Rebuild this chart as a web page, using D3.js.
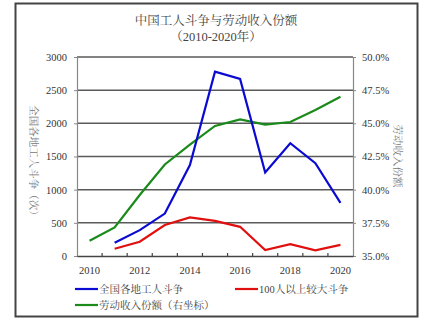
<!DOCTYPE html>
<html><head><meta charset="utf-8">
<script src="https://cdn.jsdelivr.net/npm/d3@7"></script>
<style>
body{margin:0;background:#fff;}
text{font-family:"Liberation Serif","Noto Serif CJK SC","Noto Sans CJK SC",serif;}
</style></head>
<body><svg id="c" width="431" height="322"></svg>
<script>
const years = [2010,2011,2012,2013,2014,2015,2016,2017,2018,2019,2020];
const yearTicks = [2010,2012,2014,2016,2018,2020];
const allStrikes = [null,200,390,640,1370,2780,2670,1260,1700,1400,800];
const bigStrikes = [null,110,215,467,582,530,440,90,180,85,168];
const laborShare = [36.15,37.15,39.6,41.9,43.4,44.8,45.3,44.9,45.1,46.0,47.0];
const leftTicks = [0,500,1000,1500,2000,2500,3000];
const rightTicks = [35,37.5,40,42.5,45,47.5,50];
const title1 = "中国工人斗争与劳动收入份额";
const title2 = "（2010-2020年）";
const seriesNames = ["全国各地工人斗争","100人以上较大斗争","劳动收入份额（右坐标）"];
const colors = ["#0a0ad2","#e01010","#1a8a1a"];

const svg = d3.select("#c");
const L=77, R=353, T=57, B=256;
const x = d3.scaleBand().domain(years).range([L,R]);
const yl = d3.scaleLinear().domain([0,3000]).range([B,T]);
const yr = d3.scaleLinear().domain([35,50]).range([B,T]);
const cx = d => x(d)+x.bandwidth()/2;

// frame
svg.append("rect").attr("x",15.5).attr("y",3.5).attr("width",402).attr("height",313)
  .attr("fill","none").attr("stroke","#444").attr("stroke-width",2);

// title
svg.append("text").attr("x",216).attr("y",25).attr("text-anchor","middle")
  .attr("font-size",12.5).attr("fill","#444").text(title1);
svg.append("text").attr("x",216).attr("y",41).attr("text-anchor","middle")
  .attr("font-size",12.5).attr("fill","#444").text(title2);

// gridlines
svg.append("g").selectAll("line").data(leftTicks.slice(1)).join("line")
  .attr("x1",L).attr("x2",R).attr("y1",d=>yl(d)).attr("y2",d=>yl(d))
  .attr("stroke","#5a5a5a").attr("stroke-width",1.5);

// left axis
const gl = svg.append("g").attr("transform",`translate(${L},0)`)
  .call(d3.axisLeft(yl).tickValues(leftTicks).tickSize(3).tickPadding(7).tickFormat(d3.format("d")));
gl.select(".domain").attr("stroke","#888").attr("stroke-width",1.2);
gl.selectAll(".tick line").attr("stroke","#888");
gl.selectAll("text").attr("font-size",10.5).attr("fill","#333")
  .attr("font-family","Liberation Serif, serif");

// right axis
const gr = svg.append("g").attr("transform",`translate(${R},0)`)
  .call(d3.axisRight(yr).tickValues(rightTicks).tickSize(3).tickPadding(6).tickFormat(d=>d.toFixed(1)+"%"));
gr.select(".domain").attr("stroke","#888").attr("stroke-width",1.2);
gr.selectAll(".tick line").attr("stroke","#888");
gr.selectAll("text").attr("font-size",10.5).attr("fill","#333")
  .attr("font-family","Liberation Serif, serif");

// bottom axis
const gb = svg.append("g").attr("transform",`translate(0,${B})`)
  .call(d3.axisBottom(x).tickValues([]).tickSize(0));
gb.select(".domain").attr("stroke","#444").attr("stroke-width",1.5);
// inward ticks at band boundaries
gb.append("g").selectAll("line").data(years.slice(1)).join("line")
  .attr("x1",d=>x(d)).attr("x2",d=>x(d)).attr("y1",0).attr("y2",-3)
  .attr("stroke","#444").attr("stroke-width",1.2);
gb.append("g").selectAll("text").data(yearTicks).join("text")
  .attr("x",d=>cx(d)).attr("y",18).attr("text-anchor","middle")
  .attr("font-size",10.5).attr("fill","#333").text(d=>d);

// axis titles
svg.append("text").attr("transform",`translate(30,163) rotate(90)`)
  .attr("text-anchor","middle").attr("font-size",10.5).attr("fill","#777").text("全国各地工人斗争（次）");
svg.append("text").attr("transform",`translate(394,156) rotate(90)`)
  .attr("text-anchor","middle").attr("font-size",10.5).attr("fill","#777").text("劳动收入份额");

// lines
const lineL = d3.line().defined(d=>d[1]!=null).x(d=>cx(d[0])).y(d=>yl(d[1]));
const lineR = d3.line().x(d=>cx(d[0])).y(d=>yr(d[1]));
svg.append("path").datum(years.map((y,i)=>[y,laborShare[i]])).attr("d",lineR)
  .attr("fill","none").attr("stroke",colors[2]).attr("stroke-width",2.2);
svg.append("path").datum(years.map((y,i)=>[y,bigStrikes[i]])).attr("d",lineL)
  .attr("fill","none").attr("stroke",colors[1]).attr("stroke-width",2.2);
svg.append("path").datum(years.map((y,i)=>[y,allStrikes[i]])).attr("d",lineL)
  .attr("fill","none").attr("stroke",colors[0]).attr("stroke-width",2.2);

// legend
const leg = [{x:75,y:289},{x:235,y:289},{x:75,y:305}];
leg.forEach((p,i)=>{
  svg.append("line").attr("x1",p.x).attr("x2",p.x+23).attr("y1",p.y).attr("y2",p.y)
    .attr("stroke",colors[i]).attr("stroke-width",2.2);
  svg.append("text").attr("x",p.x+24).attr("y",p.y+4).attr("font-size",10.5)
    .attr("fill","#444").text(seriesNames[i]);
});
</script></body></html>
